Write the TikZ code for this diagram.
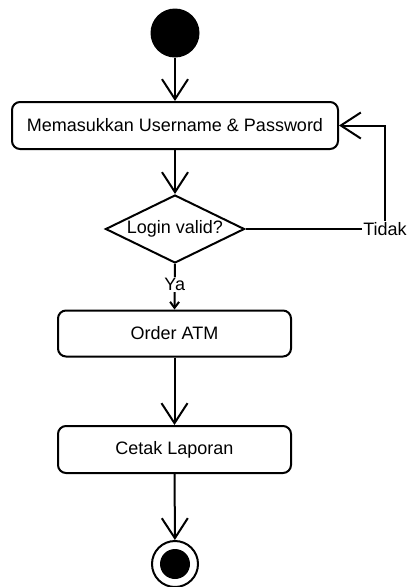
\documentclass[tikz,border=0pt]{standalone}
\usepackage{fontspec}
\setmainfont{Liberation Sans}
\usetikzlibrary{shapes.geometric,arrows.meta}
\begin{document}
\begin{tikzpicture}[x=1pt,y=-1pt,
  every node/.style={font=\fontsize{18}{21}\selectfont},
  act/.style={draw,line width=2pt,rounded corners=8pt,minimum height=47pt,inner sep=0pt},
  flow/.style={draw,line width=2pt,-{Straight Barb[length=20pt,width=26pt]}},
  smallflow/.style={draw,line width=2pt,-{Straight Barb[length=6pt,width=9pt]}},
  lbl/.style={fill=white,inner sep=1.5pt}
]
\useasboundingbox (0,0) rectangle (407,587);
\node[circle,fill=black,minimum size=49pt,inner sep=0pt] (start) at (175,33) {};
\node[act,minimum width=326pt] (login) at (175,125.5) {Memasukkan Username \& Password};
\node[diamond,draw,line width=2pt,inner sep=0pt,minimum width=139pt,minimum height=68pt,aspect=2.04] (dec) at (175,229) {Login valid?};
\node[act,minimum width=233pt,minimum height=46pt] (order) at (174.5,333.5) {Order ATM};
\node[act,minimum width=233pt] (cetak) at (174.5,449.5) {Cetak Laporan};
\node[circle,draw,line width=2pt,minimum size=46pt,inner sep=0pt] (end) at (175,564) {};
\node[circle,fill=black,minimum size=30pt,inner sep=0pt] (endin) at (end) {};
\coordinate (tcorner) at (385,229);
\draw[flow] (start) -- (login);
\draw[flow] (login) -- (dec);
\draw[flow] (dec.east) -- (tcorner) |- (login.east);
\node[lbl] (tidak) at (tcorner) {Tidak};
\draw[smallflow] (dec.south) -- (order.north) node[lbl,pos=0.45] (ya) {Ya};
\draw[flow] (order) -- (cetak);
\draw[flow] (cetak) -- (end);
\end{tikzpicture}
\end{document}
